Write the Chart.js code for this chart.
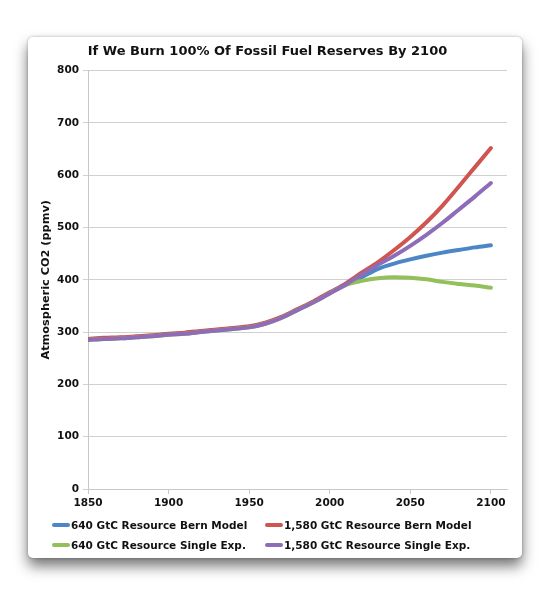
<!DOCTYPE html>
<html>
<head>
<meta charset="utf-8">
<script src="https://cdn.jsdelivr.net/npm/chart.js@4"></script>
<style>
  html, body { margin: 0; padding: 0; background: #fff; }
  body { width: 553px; height: 595px; position: relative; overflow: hidden; }
  #card {
    position: absolute; left: 28px; top: 37px; width: 494px; height: 521px;
    background: #fff; border-radius: 5px;
    box-shadow: 0 8px 14px rgba(0,0,0,0.55), 0 0 3px rgba(0,0,0,0.25);
  }
  #card canvas { position: absolute; left: 0; top: 0; }
  #legend {
    position: absolute; left: 24px; top: 479px; width: 460px;
    display: grid; grid-template-columns: 213px 240px; row-gap: 3px;
    font: bold 10.5px "DejaVu Sans", Verdana, sans-serif; color: #111;
  }
  .item { display: flex; align-items: center; height: 17px; white-space: nowrap; }
  .sw { width: 18px; height: 4px; border-radius: 2px; margin-right: 1px; }
</style>
</head>
<body>
<div id="card">
  <canvas id="co2Chart" width="494" height="521"></canvas>
  <div id="legend"></div>
</div>
<script>
const years = [1850, 1860, 1870, 1880, 1890, 1900, 1910, 1920, 1930, 1940, 1950, 1960, 1970,
               1980, 1990, 2000, 2010, 2020, 2030, 2040, 2050, 2060, 2070, 2080, 2090, 2100];

const bern640 = [286, 288, 289, 291, 293, 296, 298, 301, 304, 307, 310, 317, 328,
                 343, 358, 375, 391, 405, 421, 431, 439, 446, 452, 457, 462, 466];
const bern1580 = [287, 289, 290, 292, 294, 297, 299, 302, 305, 308, 311, 318, 329,
                  344, 359, 376, 393, 414, 434, 457, 482, 510, 542, 578, 615, 652];
const single640 = [285, 287, 288, 290, 292, 295, 297, 300, 303, 306, 309, 316, 327,
                   342, 357, 374, 390, 398, 403, 405, 404, 401, 396, 392, 389, 385];
const single1580 = [285, 287, 288, 290, 292, 295, 297, 300, 303, 306, 309, 316, 327,
                    342, 357, 374, 391, 410, 429, 446, 465, 486, 509, 534, 559, 585];

const seriesLabels = ['640 GtC Resource Bern Model', '1,580 GtC Resource Bern Model',
                      '640 GtC Resource Single Exp.', '1,580 GtC Resource Single Exp.'];
const seriesColors = ['#4c86c6', '#cf5550', '#93c05a', '#8e6db8'];

const xTicks = [1850, 1900, 1950, 2000, 2050, 2100];
const yTicks = [0, 100, 200, 300, 400, 500, 600, 700, 800];

const font = "'DejaVu Sans', Verdana, sans-serif";

function toPoints(values) {
  return values.map((v, i) => ({ x: years[i], y: v }));
}

const allSeries = [bern640, bern1580, single640, single1580];

new Chart(document.getElementById('co2Chart'), {
  type: 'line',
  data: {
    datasets: allSeries.map((vals, i) => ({
      label: seriesLabels[i],
      data: toPoints(vals),
      borderColor: seriesColors[i],
      backgroundColor: seriesColors[i],
      borderWidth: 4,
      borderCapStyle: 'round',
      pointRadius: 0,
      cubicInterpolationMode: 'monotone',
      fill: false,
      order: 3 - i   // later series drawn on top, like the original
    }))
  },
  options: {
    responsive: false,
    animation: false,
    layout: { padding: { left: 0, right: 15, top: 0, bottom: 39 } },
    plugins: {
      legend: { display: false },
      tooltip: { enabled: false },
      title: {
        display: true,
        text: 'If We Burn 100% Of Fossil Fuel Reserves By 2100',
        color: '#111',
        font: { family: font, size: 13, weight: 'bold' },
        padding: { top: 7, bottom: 11 }
      }
    },
    scales: {
      x: {
        type: 'linear',
        min: 1850,
        max: 2110,
        afterBuildTicks: s => { s.ticks = xTicks.map(v => ({ value: v })); },
        afterFit: s => { s.height = 30; },
        ticks: {
          color: '#111',
          font: { family: font, size: 10.5, weight: 'bold' },
          padding: 3,
          maxRotation: 0,
          callback: v => String(v)
        },
        grid: { drawOnChartArea: false, drawTicks: true, tickLength: 5, color: '#c8c8c8' },
        border: { color: '#c8c8c8' }
      },
      y: {
        min: 0,
        max: 800,
        afterBuildTicks: s => { s.ticks = yTicks.map(v => ({ value: v })); },
        afterFit: s => { s.width = 60; },
        ticks: {
          color: '#111',
          font: { family: font, size: 10.5, weight: 'bold' },
          padding: 4,
          callback: v => String(v)
        },
        grid: { color: '#d0d0d0', tickLength: 5 },
        border: { color: '#c8c8c8' },
        title: {
          display: true,
          text: 'Atmospheric CO2 (ppmv)',
          color: '#111',
          font: { family: font, size: 11.3, weight: 'bold' },
          padding: { top: 11, bottom: 2 }
        }
      }
    }
  }
});

// two-column legend under the plot, same order as the reference
const legendEl = document.getElementById('legend');
[0, 1, 2, 3].forEach(i => {
  const item = document.createElement('div');
  item.className = 'item';
  const sw = document.createElement('span');
  sw.className = 'sw';
  sw.style.background = seriesColors[i];
  const txt = document.createElement('span');
  txt.textContent = seriesLabels[i];
  item.appendChild(sw);
  item.appendChild(txt);
  legendEl.appendChild(item);
});
</script>
</body>
</html>
